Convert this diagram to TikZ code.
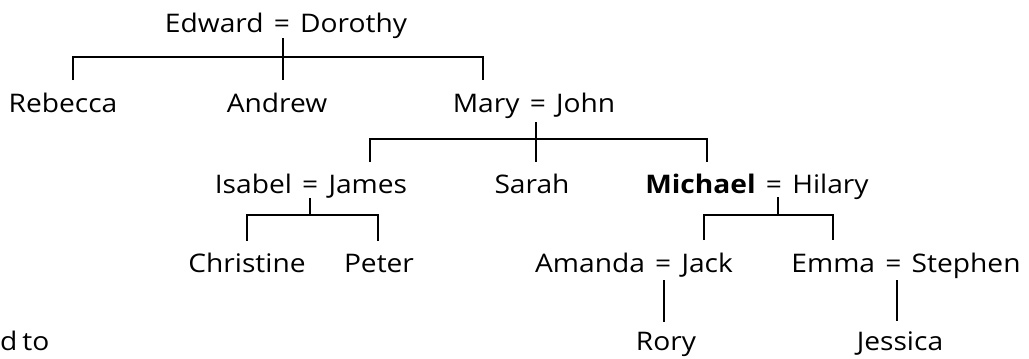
\documentclass[tikz,border=0pt]{standalone}
\usepackage{fontspec}
\setmainfont{Open Sans}[FakeStretch=1.1,WordSpace=1.4]
\begin{document}
\begin{tikzpicture}[x=1pt,y=-1pt,
  person/.style={anchor=base,inner sep=0pt,font=\fontsize{25.6}{28}\selectfont},
  link/.style={line width=1.4pt}]
\useasboundingbox (0,0) rectangle (1029,359);
% people
\node[person] (ed) at (286,32) {Edward = Dorothy};
\node[person] (rebecca) at (63,112) {Rebecca};
\node[person] (andrew) at (277,112) {Andrew};
\node[person] (mj) at (534,112) {Mary = John};
\node[person] (ij) at (311,193) {Isabel = James};
\node[person] (sarah) at (532,193) {Sarah};
\node[person] (mh) at (757,193) {\textbf{Michael} = Hilary};
\node[person] (christine) at (247,272) {Christine};
\node[person] (peter) at (379,272) {Peter};
\node[person] (aj) at (634,272) {Amanda = Jack};
\node[person] (es) at (906,272) {Emma = Stephen};
\node[person] (rory) at (666,350) {Rory};
\node[person] (jessica) at (900,350) {Jessica};
\node[person,anchor=base west] (frag) at (0,350) {d\kern5pt to};
% connector points
\coordinate (edtop) at (283,38);
\coordinate (edbar) at (283,57);
\coordinate (edl) at (73,57);
\coordinate (edr) at (483,57);
\coordinate (rebtop) at (73,80);
\coordinate (andtop) at (283,80);
\coordinate (marytop) at (483,80);
\coordinate (mjtop) at (536,122);
\coordinate (mjbar) at (536,139);
\coordinate (mjl) at (370,139);
\coordinate (mjr) at (707,139);
\coordinate (ijt) at (370,162);
\coordinate (sarahtop) at (536,162);
\coordinate (mht) at (707,162);
\coordinate (ijtop) at (310,198);
\coordinate (ijbar) at (310,215);
\coordinate (ijl) at (247,215);
\coordinate (ijr) at (378,215);
\coordinate (chrtop) at (247,241);
\coordinate (pettop) at (378,241);
\coordinate (mhtop) at (778,197);
\coordinate (mhbar) at (778,215);
\coordinate (mhl) at (704,215);
\coordinate (mhr) at (833,215);
\coordinate (ajt) at (704,240);
\coordinate (est) at (833,240);
\coordinate (ajtop) at (664,280);
\coordinate (rorytop) at (664,322);
\coordinate (estop) at (897,280);
\coordinate (jestop) at (897,321);
% connectors
\draw[link] (edtop) -- (andtop);
\draw[link] (rebtop) -- (edl) -- (edr) -- (marytop);
\draw[link] (mjtop) -- (sarahtop);
\draw[link] (ijt) -- (mjl) -- (mjr) -- (mht);
\draw[link] (ijtop) -- (ijbar);
\draw[link] (chrtop) -- (ijl) -- (ijr) -- (pettop);
\draw[link] (mhtop) -- (mhbar);
\draw[link] (ajt) -- (mhl) -- (mhr) -- (est);
\draw[link] (ajtop) -- (rorytop);
\draw[link] (estop) -- (jestop);
\end{tikzpicture}
\end{document}
